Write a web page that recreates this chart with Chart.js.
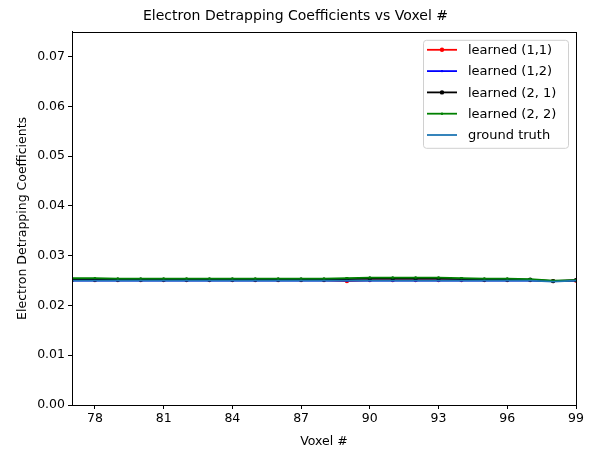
<!DOCTYPE html>
<html><head><meta charset="utf-8">
<script src="https://cdn.jsdelivr.net/npm/chart.js@4"></script>
<style>html,body{margin:0;padding:0;background:#fff}#wrap{width:591px;height:451px}</style>
</head><body><div id="wrap"><canvas id="c" width="591" height="451"></canvas></div>
<script>
const voxels = [77,78,79,80,81,82,83,84,85,86,87,88,89,90,91,92,93,94,95,96,97,98,99];
const learned11 = [0.0251,0.0251,0.0251,0.0251,0.0251,0.0251,0.0251,0.0251,0.0251,0.0251,0.0251,0.0251,0.0249,0.0251,0.0251,0.0251,0.0251,0.0251,0.0251,0.0251,0.0251,0.0249,0.0250];
const learned12 = [0.0250,0.0250,0.0250,0.0250,0.0250,0.0250,0.0250,0.0250,0.0250,0.0250,0.0250,0.0250,0.0250,0.0250,0.0250,0.0250,0.0250,0.0250,0.0250,0.0250,0.0250,0.0249,0.0250];
const learned21 = [0.0252,0.0252,0.0252,0.0252,0.0252,0.0252,0.0252,0.0252,0.0252,0.0252,0.0252,0.0252,0.0253,0.0254,0.0254,0.0254,0.0254,0.0253,0.0252,0.0252,0.0252,0.0249,0.0251];
const learned22 = [0.0255,0.0255,0.0254,0.0254,0.0254,0.0254,0.0254,0.0254,0.0254,0.0254,0.0254,0.0254,0.0255,0.0256,0.0256,0.0256,0.0256,0.0255,0.0254,0.0254,0.0253,0.0250,0.0251];
const groundTruth = [0.0250,0.0250,0.0250,0.0250,0.0250,0.0250,0.0250,0.0250,0.0250,0.0250,0.0250,0.0250,0.0250,0.0250,0.0250,0.0250,0.0250,0.0250,0.0250,0.0250,0.0250,0.0248,0.0250];
const xTicks = [78,81,84,87,90,93,96,99];
const yTicks = [0,0.01,0.02,0.03,0.04,0.05,0.06,0.07];
const seriesLabels = ['learned (1,1)','learned (1,2)','learned (2, 1)','learned (2, 2)','ground truth'];

const FONT = 'DejaVu Sans';
const pts = arr => voxels.map((v,i)=>({x:v,y:arr[i]}));

const frame = {
  id:'frame',
  afterDatasetsDraw(chart){
    const {ctx, chartArea:a} = chart;
    ctx.save(); ctx.strokeStyle='#000'; ctx.lineWidth=1;
    ctx.strokeRect(Math.round(a.left)+0.5, Math.round(a.top)+0.5, Math.round(a.right-a.left), Math.round(a.bottom-a.top));
    ctx.restore();
  }
};
const legendBox = {
  id:'legendBox',
  afterDraw(chart){
    const {ctx, chartArea:a} = chart;
    const ds = chart.data.datasets;
    const w=145, rowH=21.3, h=108;
    const x0=a.right-w-8, y0=a.top+8;
    ctx.save();
    ctx.fillStyle='rgba(255,255,255,0.8)';
    ctx.strokeStyle='#d0d0d0'; ctx.lineWidth=1;
    ctx.beginPath(); ctx.roundRect(x0+0.5,y0+0.5,w,h,3); ctx.fill(); ctx.stroke();
    ctx.font='13px "'+FONT+'"'; ctx.textBaseline='middle'; ctx.textAlign='left';
    ds.forEach((d,i)=>{
      const y=y0+10+i*rowH;
      ctx.strokeStyle=d.borderColor; ctx.lineWidth=1.8;
      ctx.beginPath(); ctx.moveTo(x0+4,y); ctx.lineTo(x0+34,y); ctx.stroke();
      if(d.pointRadius>0){ctx.fillStyle=d.pointBackgroundColor; ctx.beginPath(); ctx.arc(x0+19,y,d.pointRadius,0,Math.PI*2); ctx.fill();}
      ctx.fillStyle='#000'; ctx.fillText(d.label,x0+45,y+1);
    });
    ctx.restore();
  }
};

const colors=['#ff0000','#0000ff','#000000','#008000','#1f77b4'];
const radii=[2.2,1.2,2.2,1.2,0];
const datas=[learned11,learned12,learned21,learned22,groundTruth];
new Chart(document.getElementById('c'),{
  type:'line',
  data:{datasets: datas.map((arr,i)=>({
    label:seriesLabels[i], data:pts(arr), borderColor:colors[i], backgroundColor:colors[i],
    pointBackgroundColor:colors[i], pointBorderWidth:0, pointRadius:radii[i], borderWidth:1.8,
    fill:false, tension:0, order:5-i
  }))},
  options:{
    responsive:false, animation:false, devicePixelRatio:1,
    layout:{padding:{left:15,right:15,top:0,bottom:0}},
    plugins:{
      legend:{display:false}, tooltip:{enabled:false},
      title:{display:true,text:'Electron Detrapping Coefficients vs Voxel #',color:'#000',
        font:{family:FONT,size:14,weight:'normal'},padding:{top:8,bottom:7}}
    },
    scales:{
      x:{type:'linear',min:77,max:99,
        afterBuildTicks(ax){ax.ticks=xTicks.map(v=>({value:v}));},
        ticks:{color:'#000',font:{family:FONT,size:12.5},maxRotation:0,padding:2,callback:v=>String(v)},
        grid:{display:true,drawOnChartArea:false,drawTicks:true,tickLength:4,color:'#000'},
        border:{display:true,color:'#000'},
        title:{display:true,text:'Voxel #',color:'#000',font:{family:FONT,size:12.5},padding:{top:1,bottom:2}},
        afterFit(ax){ax.height=46;}
      },
      y:{type:'linear',min:0,max:0.075,
        afterBuildTicks(ax){ax.ticks=yTicks.map(v=>({value:v}));},
        ticks:{color:'#000',font:{family:FONT,size:12.5},padding:3,callback:v=>v.toFixed(2)},
        grid:{display:true,drawOnChartArea:false,drawTicks:true,tickLength:4,color:'#000'},
        border:{display:true,color:'#000'},
        title:{display:true,text:'Electron Detrapping Coefficients',color:'#000',font:{family:FONT,size:12.5},padding:{top:0,bottom:4}},
        afterFit(ax){ax.width=57;}
      }
    }
  },
  plugins:[frame,legendBox]
});
</script></body></html>
